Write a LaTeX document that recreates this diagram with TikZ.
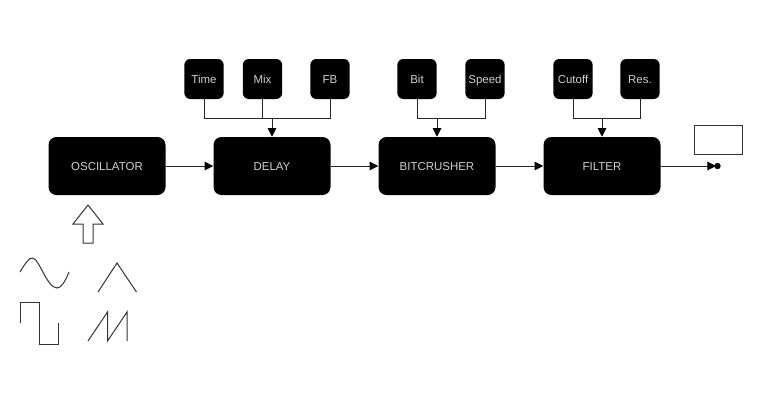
\documentclass[tikz,border=0pt]{standalone}
\usepackage{fontspec}
\setmainfont{Liberation Sans}
\usetikzlibrary{arrows.meta}
\definecolor{linec}{HTML}{333333}
\tikzset{
  px/.style={x=0.75pt,y=-0.75pt},
  block/.style={fill=black,rounded corners=6pt,minimum width=87.75pt,minimum height=43.5pt,inner sep=0pt,text height=6.2pt,text depth=0pt,text=white!82!black,font=\fontsize{8.6pt}{10pt}\selectfont},
  knob/.style={fill=black,rounded corners=4.5pt,minimum width=29.5pt,minimum height=30pt,inner sep=0pt,text height=6.2pt,text depth=0pt,text=white!82!black,font=\fontsize{8.6pt}{10pt}\selectfont},
  conn/.style={draw=black!85,line width=0.75pt},
  flow/.style={conn,-{Triangle[length=6.5pt,width=6.5pt,color=black]}},
  wave/.style={draw=linec,line width=0.75pt}
}
\begin{document}
\begin{tikzpicture}[px]
\useasboundingbox (0,0) rectangle (768,412);
\node[block] (osc) at (107,166) {OSCILLATOR};
\node[block] (delay) at (272,166) {DELAY};
\node[block] (bit) at (437,166) {BITCRUSHER};
\node[block] (filter) at (602,166) {FILTER};
\node[knob] (time) at (204,79) {Time};
\node[knob] (mix) at (262.5,79) {Mix};
\node[knob] (fb) at (330,79) {FB};
\node[knob] (bitk) at (417,79) {Bit};
\node[knob] (speed) at (485,79) {Speed};
\node[knob] (cutoff) at (573,79) {Cutoff};
\node[knob] (res) at (640,79) {Res.};
\coordinate (j1) at (272,118);
\coordinate (j2) at (437,118);
\coordinate (j3) at (602,118);
\coordinate (out) at (716,166);
\coordinate (outdot) at (717.5,166);
\draw[flow] (osc) -- (delay);
\draw[flow] (delay) -- (bit);
\draw[flow] (bit) -- (filter);
\draw[flow] (filter) -- (out);
\fill[black] (outdot) circle (2.4pt);
\draw[conn] (time.south) |- (j1);
\draw[conn] (mix.south) -- (mix.south |- j1);
\draw[conn] (fb.south) |- (j1);
\draw[flow] (j1) -- (delay.north);
\draw[conn] (bitk.south) |- (j2);
\draw[conn] (speed.south) |- (j2);
\draw[flow] (j2) -- (bit.north);
\draw[conn] (cutoff.south) |- (j3);
\draw[conn] (res.south) |- (j3);
\draw[flow] (j3) -- (filter.north);
\draw[wave] (694.5,125.5) rectangle (742.5,154.5);
% hollow arrow
\draw[wave,line join=miter] (88,205) -- (103,224) -- (93,224) -- (93,243) -- (83,243) -- (83,224) -- (73,224) -- cycle;
% sine
\draw[wave] (20,272) .. controls (26,262) and (29,258) .. (32.5,258) .. controls (39,258) and (47,288) .. (57,288) .. controls (61,288) and (65,282) .. (69,272);
% triangle
\draw[wave] (98,292) -- (117,263) -- (136.5,292);
% square
\draw[wave] (20.5,323) -- (20.5,302.5) -- (39.5,302.5) -- (39.5,344.5) -- (58.5,344.5) -- (58.5,323);
% saw
\draw[wave] (88,341) -- (107.5,312) -- (107.5,341) -- (127,312) -- (127,341);
\end{tikzpicture}
\end{document}
